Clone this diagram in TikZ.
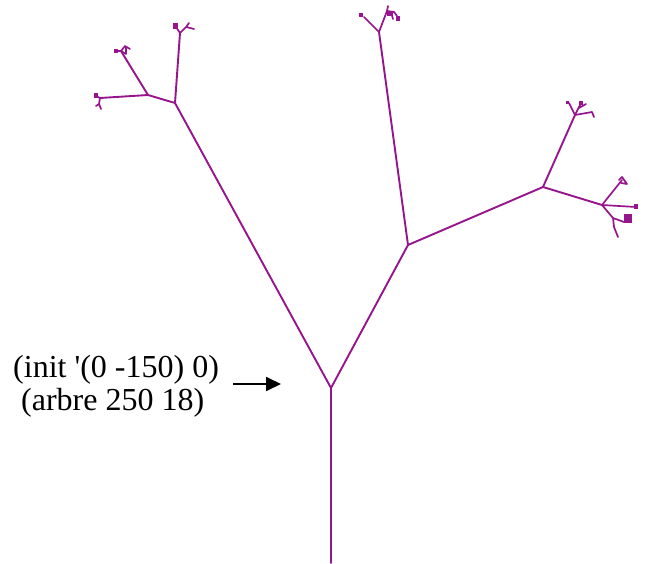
\documentclass[tikz,border=0pt]{standalone}
\usepackage{fontspec}
\setmainfont{Liberation Serif}
\usetikzlibrary{arrows.meta}
\definecolor{branch}{RGB}{150,20,140}
\tikzset{
  limb/.style={draw=branch, line width=1.9pt, line cap=round, line join=round},
  twig/.style={draw=branch, line width=1.7pt, line cap=round, line join=round},
  bud/.style={fill=branch},
  lbl/.style={font=\fontsize{32}{38}\selectfont, inner sep=0pt, anchor=base west}
}
\begin{document}
\begin{tikzpicture}[x=1pt, y=-1pt]
\useasboundingbox (0,0) rectangle (647,564);
% branch points of the tree
\coordinate (root) at (331,563);
\coordinate (A)    at (331,388);
\coordinate (L1)   at (175,103);
\coordinate (L1a)  at (180,33);
\coordinate (L1b)  at (148,95);
\coordinate (L1ba) at (121,51);
\coordinate (L1bb) at (100,98);
\coordinate (R1)   at (408,245);
\coordinate (R1a)  at (379,32);
\coordinate (R1b)  at (543,187);
\coordinate (R1ba) at (575,115);
\coordinate (R1bb) at (602,205);
\coordinate (R1bc) at (613,218);
% main limbs
\draw[limb] (root) -- (A);
\draw[limb] (A) -- (L1);
\draw[limb] (A) -- (R1);
\draw[limb] (L1) -- (L1a);
\draw[limb] (L1) -- (L1b);
\draw[limb] (L1b) -- (L1ba);
\draw[limb] (L1b) -- (L1bb);
\draw[limb] (R1) -- (R1a);
\draw[limb] (R1) -- (R1b);
\draw[limb] (R1b) -- (R1ba);
\draw[limb] (R1b) -- (R1bb);
% twigs at the tips
\draw[twig] (L1a) -- (176,27) (L1a) -- (186,27) -- (194,29) (186,27) -- (189,23);
\fill[bud] (173,23) rectangle (178,29);
\draw[twig] (L1ba) -- (116,51) (L1ba) -- (125,46) -- (130,49) (121,51) -- (126,54) -- (126,47);
\fill[bud] (114,49) rectangle (118,53);
\draw[twig] (L1bb) -- (96,96) (L1bb) -- (99,104) -- (101,109) (99,104) -- (96,106);
\fill[bud] (94,93) rectangle (98,98);
\draw[twig] (R1a) -- (364,17) (R1a) -- (387,11) -- (388,6) (387,11) -- (394,12) -- (397,16) (391,12) -- (393,19);
\fill[bud] (359,13) rectangle (363,17);
\fill[bud] (387,12) rectangle (393,16);
\fill[bud] (396,16) rectangle (400,21);
\draw[twig] (R1ba) -- (569,103) (R1ba) -- (581,103) (R1ba) -- (592,112) -- (594,117) (579,108) -- (586,104);
\fill[bud] (566,101) rectangle (569,104);
\fill[bud] (579,101) rectangle (583,105);
\draw[twig] (R1bb) -- (622,180) (R1bb) -- (636,207) (R1bb) -- (R1bc) -- (614,227) -- (618,237) (R1bc) -- (624,222);
\draw[twig] (619,180) -- (622,177) -- (627,184) -- (621,183);
\fill[bud] (624,214) rectangle (632,223);
\fill[bud] (634,204) rectangle (638,209);
% caption and pointer
\node[lbl] (cap1) at (13,377) {(init \textquotesingle(0 -150) 0)};
\node[lbl] (cap2) at (21,410) {(arbre 250 18)};
\coordinate (ptr) at (281,384);
\draw[-{Triangle[length=15pt,width=14pt]}, line width=1.8pt] (233,384) -- (ptr);
\end{tikzpicture}
\end{document}
